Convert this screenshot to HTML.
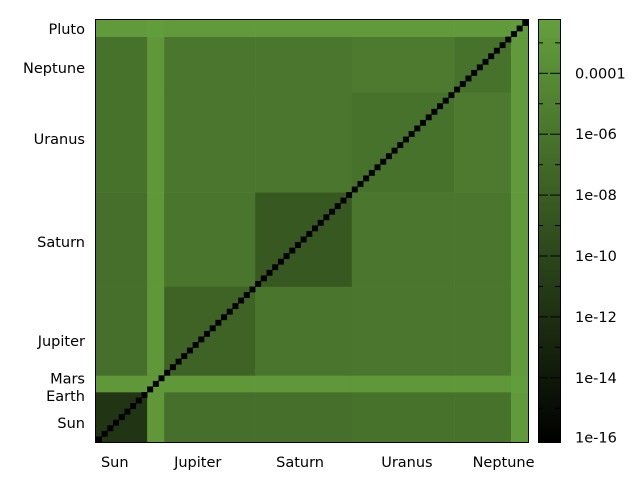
<!DOCTYPE html>
<html><head><meta charset="utf-8"><style>
body{margin:0;background:#fff;}
svg text{font-family:"DejaVu Sans","Liberation Sans",sans-serif;font-size:14.5px;fill:#000;}
</style></head><body>
<svg id="chart" width="640" height="480" xmlns="http://www.w3.org/2000/svg">
<g id="cells"></g>
<g id="diag"></g>
<rect x="95.5" y="19.5" width="433" height="423" fill="none" stroke="#000"/>
<g id="xlabels"></g>
<g id="ylabels"></g>
<defs><linearGradient id="cg" x1="0" y1="1" x2="0" y2="0">
<stop offset="0" stop-color="#000"/><stop offset="1" stop-color="#64a03c"/></linearGradient></defs>
<rect x="538.5" y="19.5" width="22" height="423" fill="url(#cg)" stroke="#000"/>
<g id="cbticks"></g>
</svg>
<script>
const groups = ["Sun","Rocky","Jupiter","Saturn","Uranus","Neptune","Pluto"];
const groupSizes = [9,3,16,17,18,10,3];
const xLabels = ["Sun","Jupiter","Saturn","Uranus","Neptune"];
const xLabelCells = [3.3,17.9,35.9,54.7,71.7];
const yLabels = ["Pluto","Neptune","Uranus","Saturn","Jupiter","Mars","Earth","Sun"];
const yLabelCells = [74.4,67.4,54.6,36,18.2,11.4,8.3,3.4];
const logSun = [-11.5,-3,-6.5,-6.5,-6.2,-6.2,-2.8];
const logRocky = [-3,-3,-3,-3,-3,-3,-2.5];
const logJupiter = [-6.5,-3,-7.5,-6,-5.8,-5.8,-2.8];
const logSaturn = [-6.5,-3,-6,-8.5,-5.8,-5.8,-2.8];
const logUranus = [-6.2,-3,-5.8,-5.8,-6.2,-5.5,-2.8];
const logNeptune = [-6.2,-3,-5.8,-5.8,-5.5,-6.2,-2.8];
const logPluto = [-2.8,-2.5,-2.8,-2.8,-2.8,-2.8,-2.6];
const blockLogs = [logSun,logRocky,logJupiter,logSaturn,logUranus,logNeptune,logPluto];
const diagLog = -16;
const cbTicks = [-4,-6,-8,-10,-12,-14,-16];
const cbTickLabels = ["0.0001","1e-06","1e-08","1e-10","1e-12","1e-14","1e-16"];

const NS="http://www.w3.org/2000/svg";
const N = groupSizes.reduce((a,b)=>a+b,0);
const X0=96,X1=528,Y0=442,Y1=20;
const cw=(X1-X0)/N, ch=(Y0-Y1)/N;
const xs=i=>X0+i*cw, ys=j=>Y0-(j+1)*ch;
const LMIN=-16.1,LMAX=-2.25;
function color(L){let t=Math.max(0,Math.min(1,(L-LMIN)/(LMAX-LMIN)));
 return `rgb(${Math.round(100*t)},${Math.round(160*t)},${Math.round(60*t)})`;}
const cbY=L=>73.3+(-4-L)*30.45;
const starts=[];let s=0;groupSizes.forEach(g=>{starts.push(s);s+=g;});
const cells=document.getElementById('cells');
for(let gr=0;gr<groups.length;gr++)for(let gc=0;gc<groups.length;gc++){
 const r=document.createElementNS(NS,'rect');
 r.setAttribute('x',xs(starts[gc]));r.setAttribute('y',ys(starts[gr]+groupSizes[gr]-1));
 r.setAttribute('width',groupSizes[gc]*cw+0.3);r.setAttribute('height',groupSizes[gr]*ch+0.3);
 r.setAttribute('fill',color(blockLogs[gr][gc]));
 
 
 cells.appendChild(r);}
const diag=document.getElementById('diag');
for(let i=0;i<N;i++){const r=document.createElementNS(NS,'rect');
 r.setAttribute('x',xs(i));r.setAttribute('y',ys(i));r.setAttribute('width',cw+0.3);r.setAttribute('height',ch+0.3);
 r.setAttribute('fill',color(diagLog));
 
 
 diag.appendChild(r);}
const xl=document.getElementById('xlabels');
xLabels.forEach((t,k)=>{const e=document.createElementNS(NS,'text');
 e.setAttribute('x',xs(xLabelCells[k]));e.setAttribute('y',467);e.setAttribute('text-anchor','middle');e.textContent=t;
 
 
 xl.appendChild(e);});
const yl=document.getElementById('ylabels');
yLabels.forEach((t,k)=>{const e=document.createElementNS(NS,'text');
 e.setAttribute('x',85);e.setAttribute('y',Y0-yLabelCells[k]*ch+5);e.setAttribute('text-anchor','end');e.textContent=t;
 
 
 yl.appendChild(e);});
const cb=document.getElementById('cbticks');
for(let L=-3;L>=-15;L--){const y=cbY(L);const major=(L%2===0);
 [[538,major?548:543],[560,major?550:555]].forEach(([a,b])=>{const l=document.createElementNS(NS,'line');
 l.setAttribute('x1',a);l.setAttribute('x2',b);l.setAttribute('y1',y);l.setAttribute('y2',y);l.setAttribute('stroke','#000');
 
 
 cb.appendChild(l);});}
cbTicks.forEach((L,k)=>{const e=document.createElementNS(NS,'text');
 e.setAttribute('x',575);e.setAttribute('y',Math.min(cbY(L),437.5)+5);e.textContent=cbTickLabels[k];
 
 
 cb.appendChild(e);});
</script>
</body></html>
